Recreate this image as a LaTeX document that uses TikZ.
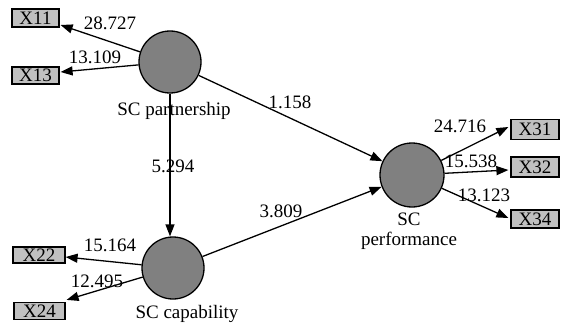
\documentclass[tikz,border=0pt]{standalone}
\usepackage{fontspec}
\setmainfont{Liberation Serif}
\usetikzlibrary{arrows.meta}
\begin{document}
\begin{tikzpicture}[x=1pt,y=-1pt,
  font=\fontsize{19}{20}\selectfont,
  lv/.style={circle,draw=black,line width=1.3pt,fill={rgb,255:red,128;green,128;blue,128},minimum size=#1,inner sep=0pt},
  ind/.style={rectangle,draw=black,line width=1.2pt,fill={rgb,255:red,192;green,192;blue,192},inner sep=0pt,minimum width=47pt,minimum height=18pt},
  arr/.style={line width=1.3pt,-{Triangle[length=12pt,width=9pt]}},
  num/.style={inner sep=0pt}]
\useasboundingbox (0,0) rectangle (562,329);
% latent variables
\node[lv=62pt] (P) at (170,62) {};
\node[lv=62pt] (C) at (173,268) {};
\node[lv=64pt] (F) at (412,175) {};
% indicators
\node[ind] (X11) at (35.5,18) {X11};
\node[ind,minimum height=17pt] (X13) at (35.5,75.5) {X13};
\node[ind,minimum width=52pt,minimum height=16pt] (X22) at (39,255) {X22};
\node[ind,minimum width=51pt,minimum height=17pt] (X24) at (39.5,311) {X24};
\node[ind,minimum width=48pt,minimum height=20pt] (X31) at (535,129.5) {X31};
\node[ind,minimum width=48pt,minimum height=20pt] (X32) at (535,167) {X32};
\node[ind,minimum width=48pt,minimum height=18pt] (X34) at (535,219) {X34};
% labels of latent variables
\node[num] (LP) at (174,111) {SC partnership};
\node[num] (LC) at (187,314) {SC capability};
\node[num,align=center] (LF) at (409,231) {SC\\performance};
% connectors
\draw[arr] (P) -- ([xshift=1pt,yshift=-7pt]X11.east);
\draw[arr] (P) -- ([xshift=1pt,yshift=3.5pt]X13.east);
\draw[arr] (C) -- ([yshift=-2pt]X22.east);
\draw[arr] (C) -- ([xshift=1pt,yshift=2pt]X24.north east);
\draw[arr] (F) -- ([xshift=-2pt,yshift=2.5pt]X31.west);
\draw[arr] (F) -- ([xshift=-2pt,yshift=-3pt]X32.west);
\draw[arr] (F) -- ([xshift=-2pt,yshift=1pt]X34.west);
\draw[arr] (P) -- (F);
\draw[arr] (C) -- (F);
\draw[arr] (P.south) -- (P.south |- C.north);
% path coefficients
\node[num] (n1) at (110,23) {28.727};
\node[num] (n2) at (95,57) {13.109};
\node[num] (n3) at (290,102) {1.158};
\node[num] (n4) at (173,166) {5.294};
\node[num] (n5) at (281,211) {3.809};
\node[num] (n6) at (110,245) {15.164};
\node[num] (n7) at (97,281) {12.495};
\node[num] (n8) at (460,126) {24.716};
\node[num] (n9) at (471,161) {15.538};
\node[num] (n10) at (484,195) {13.123};
\end{tikzpicture}
\end{document}
